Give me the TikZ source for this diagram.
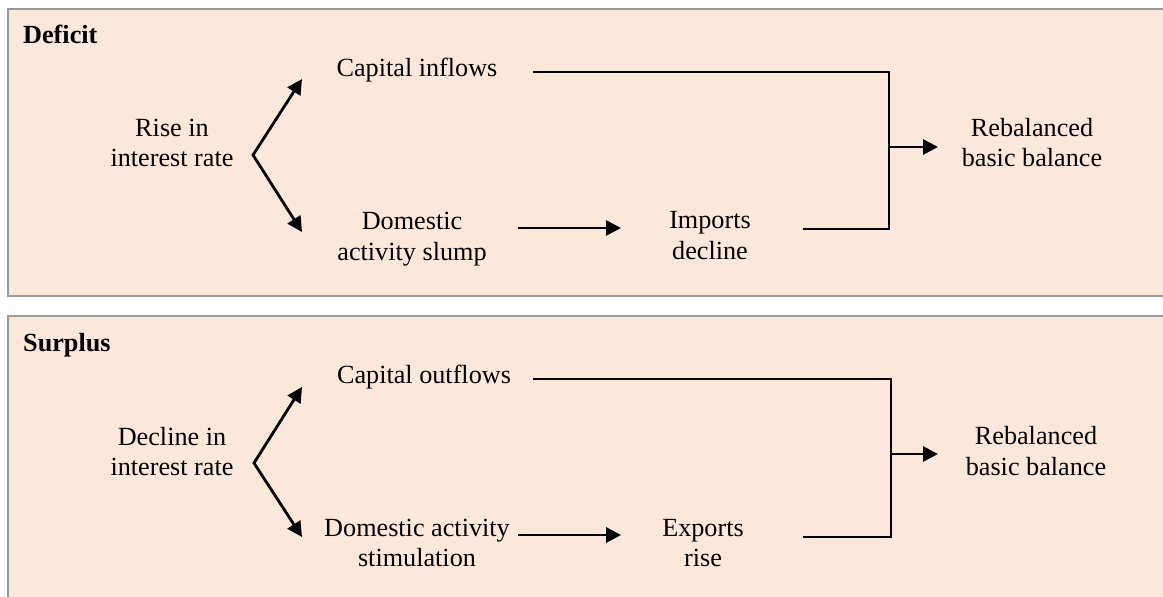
\documentclass[tikz,border=0pt]{standalone}
\usepackage{fontspec}
\setmainfont{Liberation Serif}
\usetikzlibrary{arrows.meta}
\definecolor{panelfill}{HTML}{FCE8DA}
\definecolor{panelrule}{HTML}{999999}
\begin{document}
\begin{tikzpicture}[x=1pt,y=-1pt,
  panel/.style={fill=panelfill,draw=panelrule,line width=2pt},
  txt/.style={align=center,inner sep=0pt,font=\fontsize{26.2pt}{30.5pt}\selectfont},
  heading/.style={anchor=west,inner sep=0pt,font=\fontsize{26.2pt}{30.5pt}\selectfont\bfseries},
  arr/.style={line width=2.8pt,-{Triangle[length=15pt,width=15pt]}},
  fork/.style={line width=2.8pt,{Triangle[length=15pt,width=15pt]}-{Triangle[length=15pt,width=15pt]}},
  link/.style={line width=2pt},
]
\clip (0,0) rectangle (1163,597);
\fill[white] (0,0) rectangle (1163,597);

% ---------- Deficit panel ----------
\draw[panel] (8,9) rectangle (1190,296);
\node[heading] (deficit) at (23,34) {Deficit};
\node[txt] (rise)  at (172,143) {Rise in\\interest rate};
\node[txt] (capin) at (417,70)  {Capital inflows};
\node[txt] (slump) at (412,239) {Domestic\\activity slump};
\node[txt] (imp)   at (710,235.5) {Imports\\decline};
\node[txt] (rebA)  at (1032,142.5) {Rebalanced\\basic balance};

\coordinate (forkA) at (253,155);
\coordinate (upA)   at (302,79);
\coordinate (dnA)   at (302,232);
\coordinate (slumpOut) at (518,228);
\coordinate (impIn)    at (621,228);
\coordinate (capinOut) at (533,72);
\coordinate (barTopA)  at (889,72);
\coordinate (barBotA)  at (889,229);
\coordinate (impOut)   at (803,229);
\coordinate (tapA)     at (889,147);
\coordinate (rebAIn)   at (938,147);

\draw[fork] (upA) -- (forkA) -- (dnA);
\draw[arr] (slumpOut) -- (impIn);
\draw[link] (capinOut) -- (barTopA) -- (barBotA) -- (impOut);
\draw[arr] (tapA) -- (rebAIn);

% ---------- Surplus panel ----------
\draw[panel] (8,316) rectangle (1190,640);
\node[heading] (surplus) at (23,345) {Surplus};
\node[txt] (decl)   at (172,451.5) {Decline in\\interest rate};
\node[txt] (capout) at (424,377)   {Capital outflows};
\node[txt] (stim)   at (417,543)   {Domestic activity\\stimulation};
\node[txt] (exp)    at (703,543)   {Exports\\rise};
\node[txt] (rebB)   at (1036,451)  {Rebalanced\\basic balance};

\coordinate (forkB) at (254,463);
\coordinate (upB)   at (302,387);
\coordinate (dnB)   at (302,537);
\coordinate (stimOut)   at (518,535);
\coordinate (expIn)     at (621,535);
\coordinate (capoutOut) at (533,379);
\coordinate (barTopB)   at (891,379);
\coordinate (barBotB)   at (891,537);
\coordinate (expOut)    at (803,537);
\coordinate (tapB)      at (891,454);
\coordinate (rebBIn)    at (938,454);

\draw[fork] (upB) -- (forkB) -- (dnB);
\draw[arr] (stimOut) -- (expIn);
\draw[link] (capoutOut) -- (barTopB) -- (barBotB) -- (expOut);
\draw[arr] (tapB) -- (rebBIn);
\end{tikzpicture}
\end{document}
